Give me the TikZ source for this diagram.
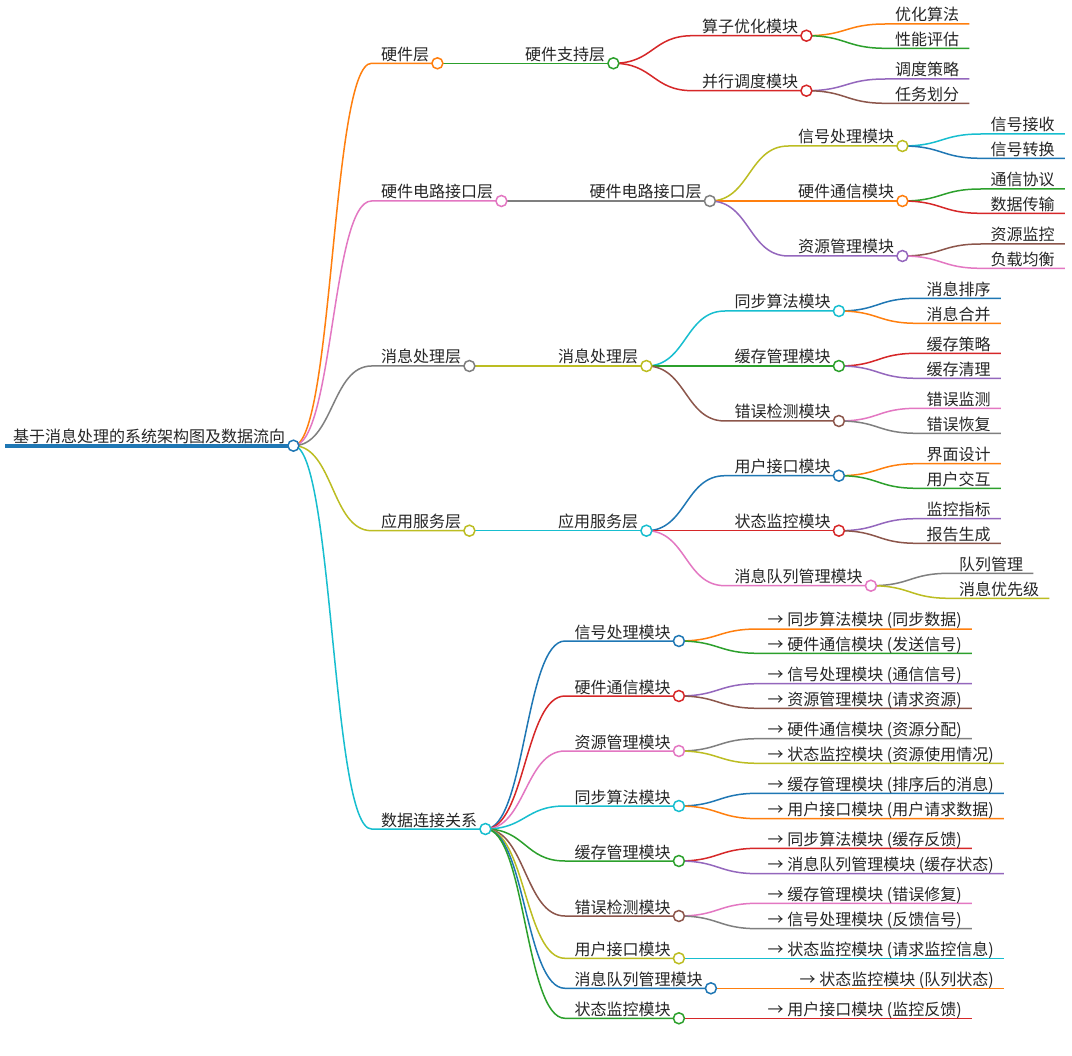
\documentclass[tikz,border=0pt]{standalone}
\usepackage{fontspec}
\setmainfont{Noto Sans CJK SC}
\usetikzlibrary{calc}
\pgfdeclarelayer{bg}
\pgfsetlayers{bg,main}
\definecolor{cblue}{HTML}{1F77B4}
\definecolor{corange}{HTML}{FF7F0E}
\definecolor{cgreen}{HTML}{2CA02C}
\definecolor{cred}{HTML}{D62728}
\definecolor{cpurple}{HTML}{9467BD}
\definecolor{cbrown}{HTML}{8C564B}
\definecolor{cpink}{HTML}{E377C2}
\definecolor{cgray}{HTML}{7F7F7F}
\definecolor{colive}{HTML}{BCBD22}
\definecolor{ccyan}{HTML}{17BECF}
\tikzset{
  mmtext/.style={inner sep=0pt, text=black!85, font=\fontsize{16}{18}\selectfont},
  mmcirc/.style={circle, minimum size=11pt, inner sep=0pt, fill=white, line width=1.5pt},
  mmline/.style={line width=1.5pt},
  mmcurve/.style={to path={.. controls +(40,0) and +(-40,0) .. (\tikztotarget)}}
}
% name, parent, colour, text x, line y, text
\newcommand\mmbranch[6]{%
  \node[mmtext, anchor=base west] (#1-t) at (#4, #5-3) {#6};
  \coordinate (#1-s) at (#4-9.5, #5);
  \node[mmcirc, draw=#3] (#1) at ($(#1-t.base east)+(8,3)$) {};
  \begin{pgfonlayer}{bg}
    \draw[mmline, #3] (#2.center) to[mmcurve] (#1-s) -- (#1.center);
  \end{pgfonlayer}
}
\newcommand\mmleaf[6]{%
  \node[mmtext, anchor=base west] (#1-t) at (#4, #5-3) {#6};
  \coordinate (#1-s) at (#4-9.5, #5);
  \coordinate (#1) at ($(#1-t.base east)+(10,3)$);
  \begin{pgfonlayer}{bg}
    \draw[mmline, #3] (#2.center) to[mmcurve] (#1-s) -- (#1);
  \end{pgfonlayer}
}
\begin{document}
\begin{tikzpicture}[x=1pt, y=-1pt]
\begin{pgfonlayer}{bg}
  \fill[white] (0,0) rectangle (1072,1056);
\end{pgfonlayer}
\useasboundingbox (0,0) rectangle (1072,1056);

% root
\node[mmtext, anchor=base west] (root-t) at (13, 442.7) {基于消息处理的系统架构图及数据流向};
\coordinate (root-s) at (5, 445.7);
\node[mmcirc, draw=cblue] (root) at ($(root-t.base east)+(8,3)$) {};
\begin{pgfonlayer}{bg}
  \draw[cblue, line width=4pt] (root-s) -- (root.center);
\end{pgfonlayer}

% level 1
\mmbranch{L1a}{root}{corange}{381}{63.3}{硬件层}
\mmbranch{L1b}{root}{cpink}{381}{201}{硬件电路接口层}
\mmbranch{L1c}{root}{cgray}{381}{366}{消息处理层}
\mmbranch{L1d}{root}{colive}{381}{530.7}{应用服务层}
\mmbranch{L1e}{root}{ccyan}{381}{829}{数据连接关系}

% level 2
\mmbranch{L2a}{L1a}{cgreen}{525}{63.3}{硬件支持层}
\mmbranch{L2b}{L1b}{cgray}{589.5}{201}{硬件电路接口层}
\mmbranch{L2c}{L1c}{colive}{558}{366}{消息处理层}
\mmbranch{L2d}{L1d}{ccyan}{558}{530.7}{应用服务层}

% level 3
\mmbranch{A1}{L2a}{cred}{702}{35.7}{算子优化模块}
\mmbranch{A2}{L2a}{cred}{702}{90.7}{并行调度模块}
\mmbranch{B1}{L2b}{colive}{798}{146}{信号处理模块}
\mmbranch{B2}{L2b}{corange}{798}{201}{硬件通信模块}
\mmbranch{B3}{L2b}{cpurple}{798}{256}{资源管理模块}
\mmbranch{C1}{L2c}{ccyan}{734.5}{311}{同步算法模块}
\mmbranch{C2}{L2c}{cgreen}{734.5}{366}{缓存管理模块}
\mmbranch{C3}{L2c}{cbrown}{734.5}{421}{错误检测模块}
\mmbranch{D1}{L2d}{cblue}{734.5}{475.7}{用户接口模块}
\mmbranch{D2}{L2d}{cred}{734.5}{530.7}{状态监控模块}
\mmbranch{D3}{L2d}{cpink}{734.5}{585.7}{消息队列管理模块}

% level 4
\mmleaf{A1a}{A1}{corange}{895}{24}{优化算法}
\mmleaf{A1b}{A1}{cgreen}{895}{48.3}{性能评估}
\mmleaf{A2a}{A2}{cpurple}{895}{79}{调度策略}
\mmleaf{A2b}{A2}{cbrown}{895}{103.3}{任务划分}
\mmleaf{B1a}{B1}{ccyan}{990.5}{134}{信号接收}
\mmleaf{B1b}{B1}{cblue}{990.5}{158.3}{信号转换}
\mmleaf{B2a}{B2}{cgreen}{990.5}{189}{通信协议}
\mmleaf{B2b}{B2}{cred}{990.5}{213.3}{数据传输}
\mmleaf{B3a}{B3}{cbrown}{990.5}{244}{资源监控}
\mmleaf{B3b}{B3}{cpink}{990.5}{268.3}{负载均衡}
\mmleaf{C1a}{C1}{cblue}{926.5}{298.3}{消息排序}
\mmleaf{C1b}{C1}{corange}{926.5}{323.3}{消息合并}
\mmleaf{C2a}{C2}{cred}{926.5}{353.3}{缓存策略}
\mmleaf{C2b}{C2}{cpurple}{926.5}{378.3}{缓存清理}
\mmleaf{C3a}{C3}{cpink}{926.5}{408.3}{错误监测}
\mmleaf{C3b}{C3}{cgray}{926.5}{433.3}{错误恢复}
\mmleaf{D1a}{D1}{corange}{926.5}{463.7}{界面设计}
\mmleaf{D1b}{D1}{cgreen}{926.5}{488.3}{用户交互}
\mmleaf{D2a}{D2}{cpurple}{926.5}{518.7}{监控指标}
\mmleaf{D2b}{D2}{cbrown}{926.5}{543.3}{报告生成}
\mmleaf{D3a}{D3}{cgray}{959}{573.3}{队列管理}
\mmleaf{D3b}{D3}{colive}{959}{598.3}{消息优先级}

% data connections level 2
\mmbranch{E1}{L1e}{cblue}{574.5}{641}{信号处理模块}
\mmbranch{E2}{L1e}{cred}{574.5}{696}{硬件通信模块}
\mmbranch{E3}{L1e}{cpink}{574.5}{751}{资源管理模块}
\mmbranch{E4}{L1e}{ccyan}{574.5}{806}{同步算法模块}
\mmbranch{E5}{L1e}{cgreen}{574.5}{861}{缓存管理模块}
\mmbranch{E6}{L1e}{cbrown}{574.5}{916}{错误检测模块}
\mmbranch{E7}{L1e}{colive}{574.5}{958.3}{用户接口模块}
\mmbranch{E8}{L1e}{cblue}{574.5}{988.3}{消息队列管理模块}
\mmbranch{E9}{L1e}{cgreen}{574.5}{1018.3}{状态监控模块}

% data connections level 3
\mmleaf{E1a}{E1}{corange}{767.5}{629}{→ 同步算法模块 (同步数据)}
\mmleaf{E1b}{E1}{cgreen}{767.5}{653.3}{→ 硬件通信模块 (发送信号)}
\mmleaf{E2a}{E2}{cpurple}{767.5}{683.7}{→ 信号处理模块 (通信信号)}
\mmleaf{E2b}{E2}{cbrown}{767.5}{708.3}{→ 资源管理模块 (请求资源)}
\mmleaf{E3a}{E3}{cgray}{767.5}{738.7}{→ 硬件通信模块 (资源分配)}
\mmleaf{E3b}{E3}{colive}{767.5}{763.3}{→ 状态监控模块 (资源使用情况)}
\mmleaf{E4a}{E4}{cblue}{767.5}{793.3}{→ 缓存管理模块 (排序后的消息)}
\mmleaf{E4b}{E4}{corange}{767.5}{818.7}{→ 用户接口模块 (用户请求数据)}
\mmleaf{E5a}{E5}{cred}{767.5}{848.3}{→ 同步算法模块 (缓存反馈)}
\mmleaf{E5b}{E5}{cpurple}{767.5}{873.7}{→ 消息队列管理模块 (缓存状态)}
\mmleaf{E6a}{E6}{cpink}{767.5}{903.3}{→ 缓存管理模块 (错误修复)}
\mmleaf{E6b}{E6}{cgray}{767.5}{928.7}{→ 信号处理模块 (反馈信号)}
\mmleaf{E7a}{E7}{ccyan}{767.5}{958.3}{→ 状态监控模块 (请求监控信息)}
\mmleaf{E8a}{E8}{corange}{799.5}{988.3}{→ 状态监控模块 (队列状态)}
\mmleaf{E9a}{E9}{cred}{767.5}{1018.3}{→ 用户接口模块 (监控反馈)}
\end{tikzpicture}
\end{document}
